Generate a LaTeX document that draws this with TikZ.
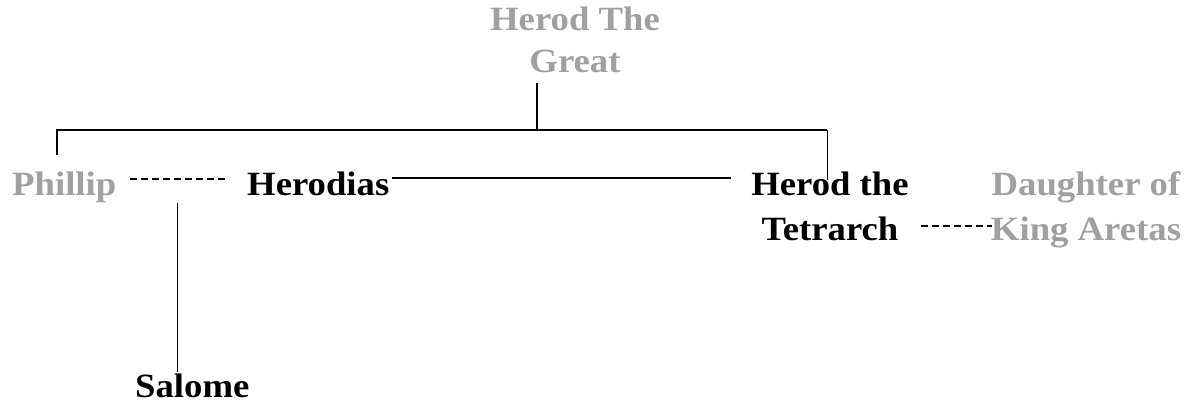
\documentclass[tikz,border=0pt]{standalone}
\usepackage{fontspec}
\setmainfont{Liberation Serif}[FakeStretch=1.08]
\definecolor{lightgr}{HTML}{A0A0A0}
\begin{document}
\begin{tikzpicture}[x=1pt,y=-1pt,
  person/.style={inner sep=0pt, align=center, font=\fontsize{34}{41}\selectfont\bfseries},
  wide/.style={font=\fontsize{34}{45}\selectfont\bfseries},
  ghost/.style={text=lightgr},
  link/.style={line width=1.4pt},
  thinlink/.style={line width=1pt},
  marriage/.style={line width=1.2pt, dash pattern=on 7pt off 4pt}]
\useasboundingbox (0,0) rectangle (1193,404);
% people (multi-line nodes: base = baseline of last line)
\node[person,ghost,anchor=base] (hg) at (575,72) {Herod The\\Great};
\node[person,ghost,anchor=base west] (ph) at (12,195) {Phillip};
\node[person,anchor=base west] (hs) at (247,195) {Herodias};
\node[person,wide,anchor=base] (ht) at (830,240) {Herod the\\Tetrarch};
\node[person,wide,ghost,anchor=base] (dk) at (1086,240) {Daughter of\\King Aretas};
\node[person,anchor=base west] (sa) at (135,397) {Salome};
% junction points
\coordinate (gtop) at (537,83);
\coordinate (gmid) at (537,130);
\coordinate (lbar) at (57,130);
\coordinate (lend) at (57,155);
\coordinate (rbar) at (827,130);
\coordinate (rend) at (827,180);
\coordinate (hsr) at (392,178);
\coordinate (htl) at (731,178);
\coordinate (pd1) at (130,179);
\coordinate (pd2) at (225,179);
\coordinate (st) at (177,203);
\coordinate (sb) at (177,372);
\coordinate (dd1) at (921,226);
\coordinate (dd2) at (992,226);
% connectors
\draw[link] (gtop) -- (gmid);
\draw[link] (lend) -- (lbar) -- (rbar);
\draw[thinlink] (rbar) -- (rend);
\draw[link] (hsr) -- (htl);
\draw[marriage] (pd1) -- (pd2);
\draw[thinlink] (st) -- (sb);
\draw[marriage] (dd1) -- (dd2);
\end{tikzpicture}
\end{document}
